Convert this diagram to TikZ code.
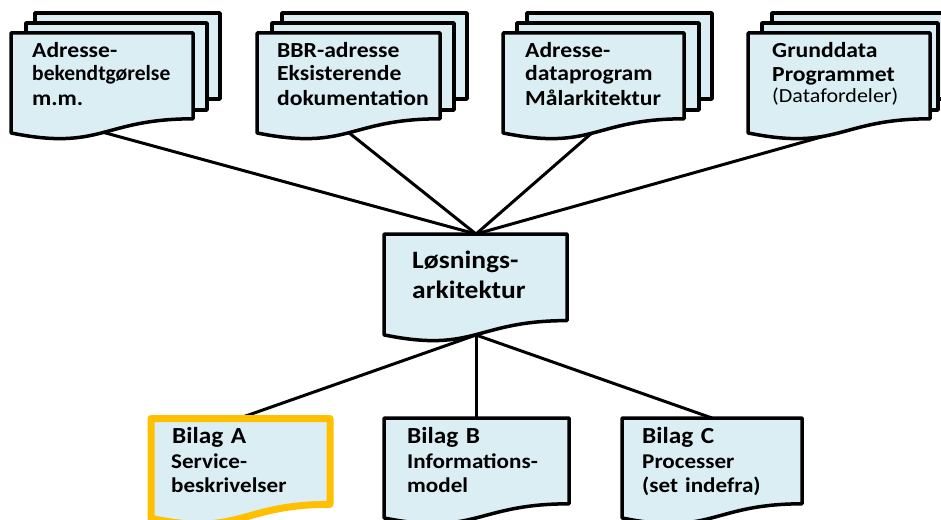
\documentclass[tikz,border=0pt]{standalone}
\usepackage{graphicx}
\usepackage{fontspec}
\setmainfont{Carlito}[FakeStretch=1.1]
\definecolor{docfill}{HTML}{DAEEF3}
\definecolor{hl}{HTML}{FFC000}
% document shape: left x, top y, right x, height
\newcommand\drawdoc[5][sheet]{%
  \path[#1] (#2,#3) -- (#4,#3) -- (#4,{#3+0.802*#5})
    .. controls ({(#2+#4)/2},{#3+0.802*#5}) and ({(#2+#4)/2},{#3+1.107*#5}) ..
    (#2,{#3+0.934*#5}) -- cycle;}
\begin{document}
\begin{tikzpicture}[x=1pt,y=-1pt,
  sheet/.style={draw=black, line width=3.5pt, fill=docfill, line join=round},
  hlsheet/.style={draw=hl, line width=7pt, fill=docfill, line join=round},
  link/.style={draw=black, line width=3pt},
  txt/.style={anchor=base west, inner sep=0pt, text width=190pt, align=left,
    font=\bfseries\fontsize{21.5}{24}\selectfont},
  bigtxt/.style={txt, font=\bfseries\fontsize{25}{30}\selectfont},
  titletxt/.style={txt, font=\bfseries\fontsize{23}{27}\selectfont},
  subtxt/.style={txt, font=\bfseries\fontsize{21}{24}\selectfont},
]
\useasboundingbox (0,0) rectangle (941,519);
\clip (0,0) rectangle (941,519);

% connection points
\coordinate (d1) at (102,132);
\coordinate (d2) at (348,132);
\coordinate (d3) at (593,132);
\coordinate (d4) at (839,132);
\coordinate (ctop) at (476,234);
\coordinate (cbot) at (476,335);
\coordinate (atop) at (240,418);
\coordinate (btop) at (476,418);
\coordinate (ctopC) at (712,418);

% connectors
\draw[link] (d1) -- (ctop);
\draw[link] (d2) -- (ctop);
\draw[link] (d3) -- (ctop);
\draw[link] (d4) -- (ctop);
\draw[link] (cbot) -- (atop);
\draw[link] (cbot) -- (btop);
\draw[link] (cbot) -- (ctopC);

% multi-document 1
\path[sheet] (35,13) rectangle (220,99);
\path[sheet] (26,23) rectangle (207,110);
\drawdoc{11}{33}{193}{107}
% multi-document 2
\path[sheet] (282,13) rectangle (467,99);
\path[sheet] (272,23) rectangle (454,110);
\drawdoc{257}{33}{440}{107}
% multi-document 3
\path[sheet] (527,13) rectangle (712,99);
\path[sheet] (517,23) rectangle (699,110);
\drawdoc{503}{33}{684}{107}
% multi-document 4
\path[sheet] (772,13) rectangle (960,99);
\path[sheet] (762,23) rectangle (938,110);
\drawdoc{748}{33}{930}{107}

% central
\drawdoc{384}{234}{567}{108}
% bilag
\drawdoc[hlsheet]{151}{418.5}{330}{107}
\drawdoc{384}{418}{569}{107}
\drawdoc{622}{418}{802}{107}

% texts
\node[txt] (t1) at (32,57) {Adresse-\\\scalebox{0.91}[1]{bekendtgørelse}\\m.m.};
\node[txt] (t2) at (277,57) {BBR-adresse\\Eksisterende\\dokumentation};
\node[txt] (t3) at (525,57) {Adresse-\\dataprogram\\Målarkitektur};
\node[txt] (t4) at (772,58) {Grunddata\\Programmet};
\node[txt, font=\fontsize{20}{24}\selectfont] (t4b) at (772,102) {(Datafordeler)};
\node[bigtxt] (tc) at (412,268) {Løsnings-\\arkitektur};
\node[titletxt] (ta) at (172,443) {Bilag A};
\node[subtxt] (ta2) at (171,468) {Service-\\beskrivelser};
\node[titletxt] (tb) at (407,443) {Bilag B};
\node[subtxt] (tb2) at (407,468) {Informations-\\model};
\node[titletxt] (tcc) at (642,443) {Bilag C};
\node[subtxt] (tc2) at (642,468) {Processer\\(set indefra)};
\end{tikzpicture}
\end{document}
